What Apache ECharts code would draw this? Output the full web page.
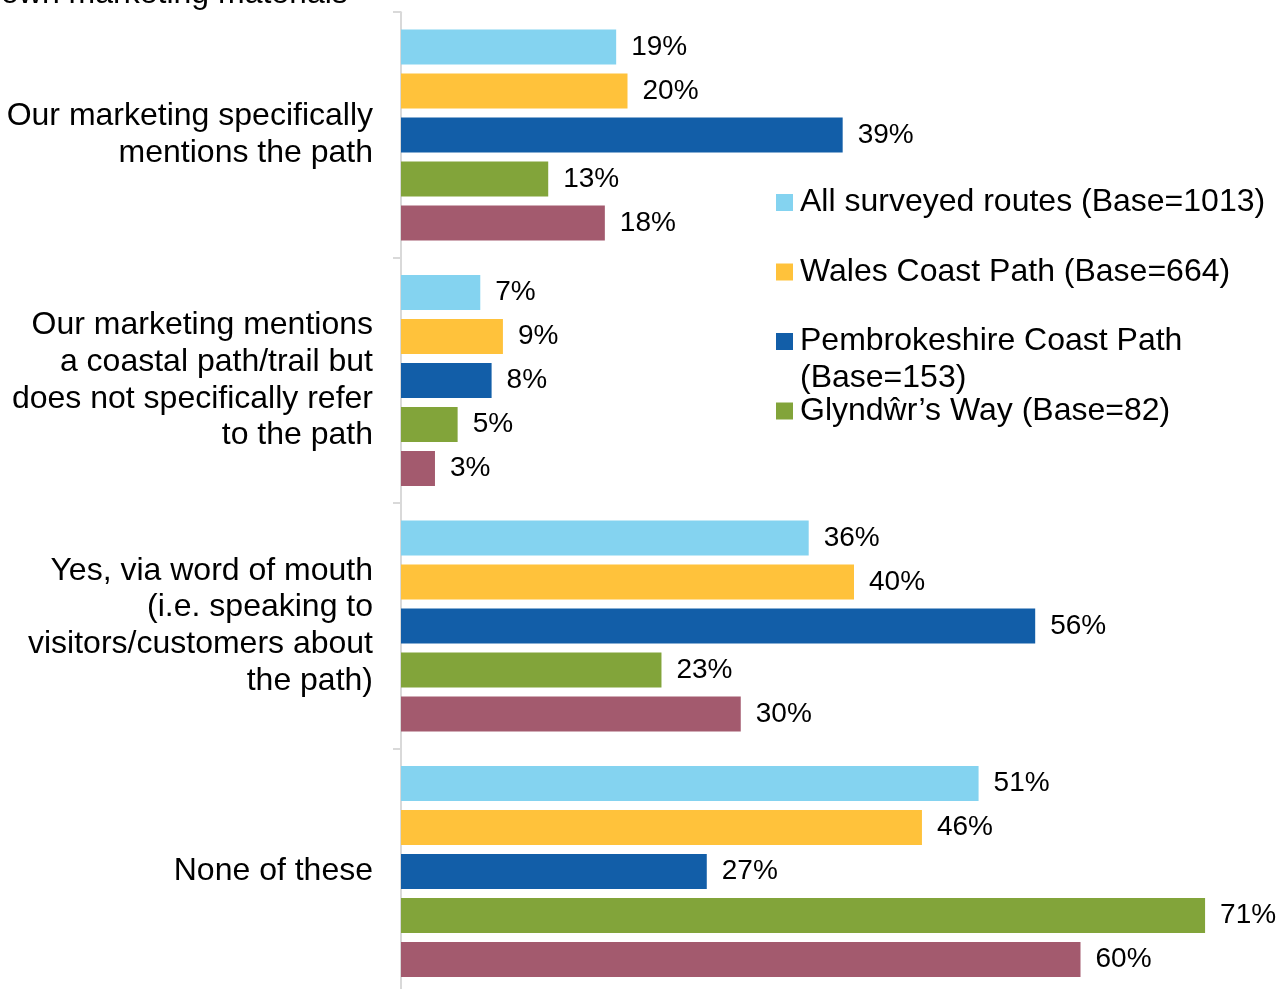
<!DOCTYPE html>
<html>
<head>
<meta charset="utf-8">
<script src="https://cdn.jsdelivr.net/npm/echarts@6/dist/echarts.min.js"></script>
<style>
  html, body { margin: 0; padding: 0; background: #ffffff; }
  #chart { width: 1285px; height: 989px; }
</style>
</head>
<body>
<div id="chart"></div>
<script>
// Ways businesses promote the path
const categories = [
  'Our marketing specifically\nmentions the path',
  'Our marketing mentions\na coastal path/trail but\ndoes not specifically refer\nto the path',
  'Yes, via word of mouth\n(i.e. speaking to\nvisitors/customers about\nthe path)',
  'None of these'
];

const seriesNames = [
  'All surveyed routes (Base=1013)',
  'Wales Coast Path (Base=664)',
  'Pembrokeshire Coast Path (Base=153)',
  'Glyndŵr’s Way (Base=82)',
  'Other routes'
];

const allRoutes     = [19, 7, 36, 51];
const walesCoast    = [20, 9, 40, 46];
const pembrokeshire = [39, 8, 56, 27];
const glyndwrsWay   = [13, 5, 23, 71];
const otherRoutes   = [18, 3, 30, 60];

const seriesValues = [allRoutes, walesCoast, pembrokeshire, glyndwrsWay, otherRoutes];
const seriesColors = ['#84D3F0', '#FFC23B', '#125EA8', '#82A43A', '#A35A6E'];

const FONT = '"Liberation Sans", Arial, Helvetica, sans-serif';

const chart = echarts.init(document.getElementById('chart'), null, { renderer: 'canvas' });

// One legend block per entry so each row sits at its own height
const legendRows = [
  { name: seriesNames[0], center: 202.5, lines: 1 },
  { name: seriesNames[1], center: 272, lines: 1 },
  { name: seriesNames[2], center: 341.5, lines: 3 },
  { name: seriesNames[3], center: 411, lines: 1 }
];
const LEGEND_LH = 37;

const legends = legendRows.map(row => ({
  data: [row.name],
  left: 776,
  top: row.center - (LEGEND_LH * row.lines) / 2,
  orient: 'vertical',
  itemWidth: 17,
  itemHeight: 17,
  icon: 'rect',
  selectedMode: false,
  padding: 0,
  formatter: name => name === seriesNames[2]
    ? '\nPembrokeshire Coast Path\n(Base=153)'
    : name,
  textStyle: {
    fontFamily: FONT,
    fontSize: 32,
    lineHeight: LEGEND_LH,
    padding: [0, 0, 0, 2],
    color: '#000000'
  }
}));

chart.setOption({
  animation: false,
  backgroundColor: '#ffffff',
  textStyle: { fontFamily: FONT },
  graphic: [{
    type: 'text',
    left: 1,
    top: -22,
    style: {
      text: 'own marketing materials',
      font: '32px ' + FONT,
      fill: '#000000'
    }
  }],
  legend: legends,
  grid: {
    left: 401,
    top: 12.2,
    width: 906,
    height: 982,
    containLabel: false,
    outerBoundsMode: 'none'
  },
  xAxis: {
    type: 'value',
    min: 0,
    max: 80,
    show: false
  },
  yAxis: {
    type: 'category',
    data: categories,
    inverse: true,
    axisLine: { show: true, lineStyle: { color: '#D9D9D9', width: 2 } },
    axisTick: { show: true, length: 8, lineStyle: { color: '#D9D9D9', width: 2 } },
    axisLabel: {
      fontFamily: FONT,
      fontSize: 32,
      lineHeight: 36.7,
      color: '#000000',
      margin: 28,
      padding: [5, 0, 0, 0],
      align: 'right'
    }
  },
  series: seriesValues.map((vals, i) => ({
    name: seriesNames[i],
    type: 'bar',
    data: vals,
    barWidth: 35,
    barGap: '25.7%',
    itemStyle: { color: seriesColors[i] },
    label: {
      show: true,
      position: 'right',
      distance: 15,
      formatter: '{c}%',
      fontFamily: FONT,
      fontSize: 28,
      color: '#000000'
    }
  }))
});
</script>
</body>
</html>
